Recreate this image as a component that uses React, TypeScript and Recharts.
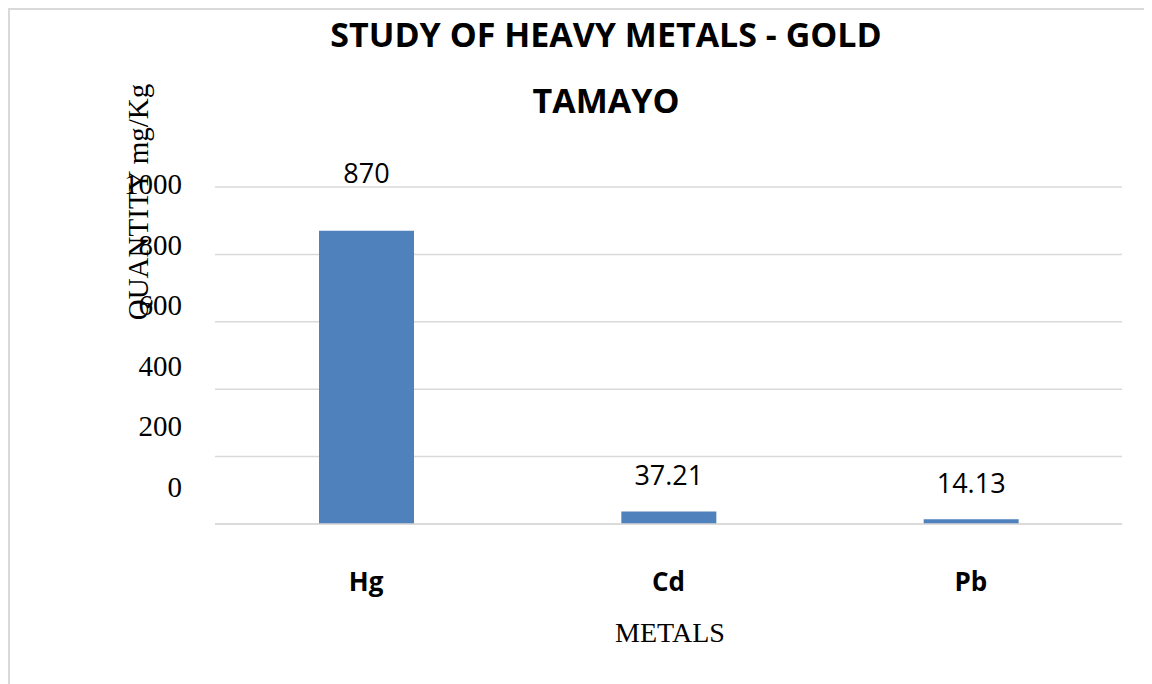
import { Bar, BarChart, CartesianGrid, Label, LabelList, XAxis, YAxis } from 'recharts';

const metals = ['Hg', 'Cd', 'Pb'];
const quantities = [870, 37.21, 14.13];
const yTicks = [0, 200, 400, 600, 800, 1000];

const titleLines = ['STUDY OF HEAVY METALS - GOLD', 'TAMAYO'];
const yTitle = 'QUANTITY mg/Kg';
const xTitle = 'METALS';

const data = metals.map((metal, i) => ({ metal, value: quantities[i] }));

const sans = '"Open Sans", sans-serif';
const serif = '"Liberation Serif", serif';
const GRID = '#d9d9d9';

// the value labels sit a little higher than the gridlines they belong to
function YTick(props: any) {
  const { x, y, payload } = props;
  const labelY = 174 + (y - 177) * 0.899;
  return (
    <text x={x} y={labelY + 10} textAnchor="end" fontFamily={serif} fontSize={29} fill="#000">
      {payload.value}
    </text>
  );
}

function XTick(props: any) {
  const { x, y, payload } = props;
  return (
    <text x={x} y={y + 59} textAnchor="middle" fontFamily={sans} fontWeight={700} fontSize={26} fill="#000">
      {payload.value}
    </text>
  );
}

function ValueLabel(props: any) {
  const { x, y, width, value, index } = props;
  const lift = index === 0 ? 48 : 26;
  return (
    <text x={x + width / 2} y={y - lift} textAnchor="middle" fontFamily={sans} fontSize={27} fill="#000">
      {value}
    </text>
  );
}

export default function App() {
  return (
    <div
      style={{
        position: 'relative',
        width: 1144,
        height: 676,
        overflow: 'hidden',
        boxSizing: 'border-box',
        borderLeft: `2px solid ${GRID}`,
        borderTop: `2px solid ${GRID}`,
        background: '#fff',
      }}
    >
      <BarChart
        width={1142}
        height={674}
        data={data}
        margin={{ top: 177, right: 30, left: 0, bottom: 60 }}
      >
        <CartesianGrid vertical={false} stroke={GRID} strokeWidth={1.5} />
        <XAxis
          dataKey="metal"
          height={100}
          axisLine={{ stroke: GRID, strokeWidth: 1.5 }}
          tickLine={false}
          tick={<XTick />}
        >
          <Label
            content={() => (
              <text x={660} y={632} textAnchor="middle" fontFamily={serif} fontSize={28} fill="#000">
                {xTitle}
              </text>
            )}
          />
        </XAxis>
        <YAxis
          width={205}
          domain={[0, 1000]}
          ticks={yTicks}
          axisLine={false}
          tickLine={false}
          tickSize={0}
          tickMargin={33}
          tick={<YTick />}
        >
          <Label
            content={() => (
              <text
                x={138}
                y={192}
                transform="rotate(-90 138 192)"
                textAnchor="middle"
                fontFamily={serif}
                fontSize={29}
                fill="#000"
              >
                {yTitle}
              </text>
            )}
          />
        </YAxis>
        <Bar dataKey="value" fill="#4f81bd" barSize={95} isAnimationActive={false}>
          <LabelList dataKey="value" content={<ValueLabel />} />
        </Bar>
      </BarChart>
      <svg
        width={1142}
        height={140}
        style={{ position: 'absolute', left: 0, top: 0, pointerEvents: 'none' }}
      >
        <text x={596} y={37} textAnchor="middle" fontFamily={sans} fontWeight={700} fontSize={34} fill="#000">
          {titleLines[0]}
        </text>
        <text x={596} y={103} textAnchor="middle" fontFamily={sans} fontWeight={700} fontSize={34} fill="#000">
          {titleLines[1]}
        </text>
      </svg>
    </div>
  );
}
